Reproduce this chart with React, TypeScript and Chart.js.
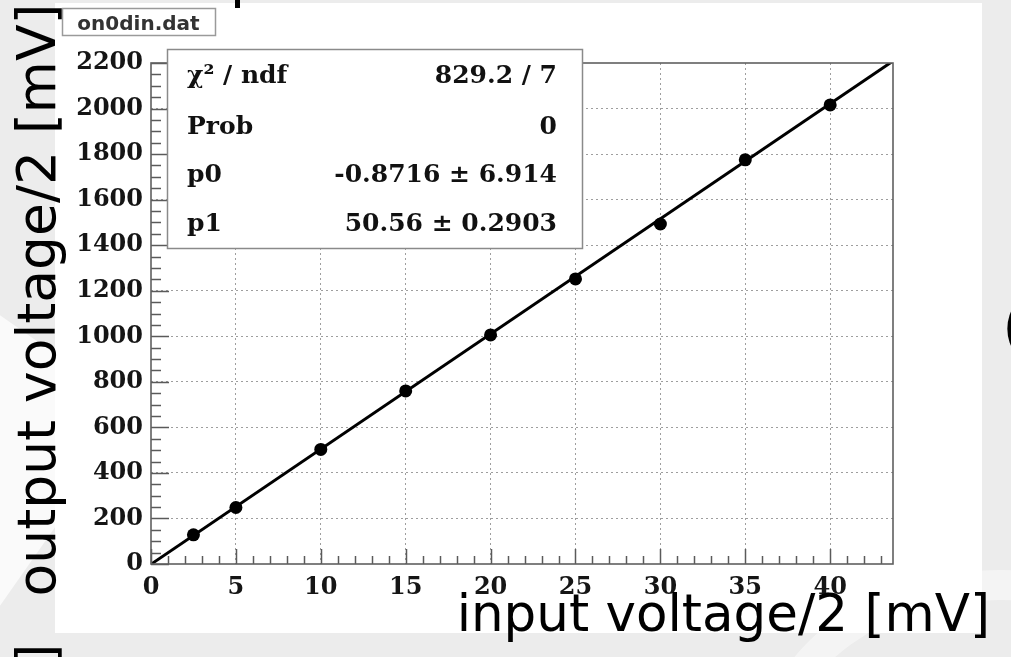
import { useEffect, useRef } from "react";
import { Chart, registerables } from "chart.js";

Chart.register(...registerables);

// Measured points: input voltage / 2 (mV) vs output voltage / 2 (mV)
const inputVoltage = [2.5, 5, 10, 15, 20, 25, 30, 35, 40];
const outputVoltage = [128, 248, 503, 760, 1006, 1252, 1493, 1775, 2016];

// Linear fit y = p0 + p1 * x
const fitP0 = -0.8716;
const fitP0Err = 6.914;
const fitP1 = 50.56;
const fitP1Err = 0.2903;
const chi2 = 829.2;
const ndf = 7;
const prob = 0;

const histTitle = "on0din.dat";
const statLabels = ["χ² / ndf", "Prob", "p0", "p1"];
const statValues = [
  `${chi2} / ${ndf}`,
  `${prob}`,
  `${fitP0} ± ${fitP0Err}`,
  `${fitP1} ± ${fitP1Err}`,
];

const xAxisTitle = "input voltage/2 [mV]";
const yAxisTitle = "output voltage/2 [mV]";

const X_MIN = 0;
const X_MAX = 43.7;
const Y_MIN = 0;
const Y_MAX = 2200;
const X_MAJOR = 5;
const X_MINOR = 1;
const Y_MAJOR = 200;
const Y_MINOR = 50;

const fitLine = (x: number) => fitP0 + fitP1 * x;

const isMultiple = (v: number, step: number) =>
  Math.abs(v / step - Math.round(v / step)) < 1e-6;

// ROOT-style frame: inside ticks, frame box, stats box and title box
const rootStylePlugin = {
  id: "rootStyle",
  afterDatasetsDraw(chart: any) {
    const { ctx, chartArea: a, scales } = chart;
    const xs = scales.x;
    const ys = scales.y;
    ctx.save();
    ctx.strokeStyle = "#5a5a5a";
    ctx.lineWidth = 1.5;
    ctx.setLineDash([]);
    // ticks on the x axis
    for (let v = X_MIN; v <= X_MAX + 1e-9; v += X_MINOR) {
      const px = Math.round(xs.getPixelForValue(v)) + 0.5;
      const len = isMultiple(v, X_MAJOR) ? 15 : 8;
      ctx.beginPath();
      ctx.moveTo(px, a.bottom);
      ctx.lineTo(px, a.bottom - len);
      ctx.stroke();
    }
    // ticks on the y axis
    for (let v = Y_MIN; v <= Y_MAX + 1e-9; v += Y_MINOR) {
      const py = Math.round(ys.getPixelForValue(v)) + 0.5;
      const len = isMultiple(v, Y_MAJOR) ? 18 : 10;
      ctx.beginPath();
      ctx.moveTo(a.left, py);
      ctx.lineTo(a.left + len, py);
      ctx.stroke();
    }
    // frame
    ctx.strokeStyle = "#606060";
    ctx.lineWidth = 1.6;
    ctx.strokeRect(a.left, a.top, a.right - a.left, a.bottom - a.top);
    ctx.restore();
  },
  afterDraw(chart: any) {
    const { ctx } = chart;
    ctx.save();
    // stats box
    const bx = 167, by = 49, bw = 415, bh = 199;
    ctx.fillStyle = "#ffffff";
    ctx.fillRect(bx, by, bw, bh);
    ctx.strokeStyle = "#8a8a8a";
    ctx.lineWidth = 1.5;
    ctx.strokeRect(bx + 0.5, by + 0.5, bw, bh);
    ctx.fillStyle = "#111111";
    ctx.font = "bold 25px 'DejaVu Serif'";
    ctx.textBaseline = "alphabetic";
    const baselines = [83, 134, 182, 231];
    statLabels.forEach((label, i) => {
      ctx.textAlign = "left";
      ctx.fillText(label, 187, baselines[i]);
      ctx.textAlign = "right";
      ctx.fillText(statValues[i], 557, baselines[i]);
    });
    // title box
    const tx = 62, ty = 8, tw = 153, th = 27;
    ctx.fillStyle = "#ffffff";
    ctx.fillRect(tx, ty, tw, th);
    ctx.strokeStyle = "#9a9a9a";
    ctx.lineWidth = 1.5;
    ctx.strokeRect(tx + 0.5, ty + 0.5, tw, th);
    ctx.fillStyle = "#333333";
    ctx.font = "bold 20px 'DejaVu Sans'";
    ctx.textAlign = "center";
    ctx.fillText(histTitle, tx + tw / 2, 30);
    ctx.restore();
  },
};

export default function App() {
  const canvasRef = useRef<HTMLCanvasElement>(null);

  useEffect(() => {
    const canvas = canvasRef.current;
    if (!canvas) return;
    const tickFont = { family: "'DejaVu Serif'", size: 24, weight: "bold" as const };
    const gridColor = (step: number, max: number) => (ctx: any) => {
      const v = ctx.tick ? ctx.tick.value : 0;
      if (v <= 0 || v >= max - 1e-6) return "rgba(0,0,0,0)";
      return isMultiple(v, step) ? "rgba(0,0,0,0.38)" : "rgba(0,0,0,0)";
    };
    const chart = new Chart(canvas, {
      type: "scatter",
      data: {
        datasets: [
          {
            label: "data",
            data: inputVoltage.map((x, i) => ({ x, y: outputVoltage[i] })),
            pointRadius: 6.5,
            pointHoverRadius: 6.5,
            pointBackgroundColor: "#000000",
            pointBorderWidth: 0,
            showLine: false,
          },
          {
            label: "fit",
            data: [
              { x: X_MIN, y: fitLine(X_MIN) },
              { x: X_MAX, y: fitLine(X_MAX) },
            ],
            showLine: true,
            borderColor: "#000000",
            borderWidth: 3,
            pointRadius: 0,
            pointHoverRadius: 0,
          },
        ],
      },
      options: {
        animation: false,
        responsive: false,
        devicePixelRatio: 1,
        events: [],
        layout: { padding: { left: 0, top: 63, right: 118, bottom: 53 } },
        plugins: {
          legend: { display: false },
          tooltip: { enabled: false },
        },
        scales: {
          x: {
            type: "linear",
            min: X_MIN,
            max: X_MAX,
            afterFit: (s: any) => {
              s.height = 40;
            },
            border: { display: false, dash: [2, 3] },
            grid: {
              drawTicks: false,
              lineWidth: 1,
              color: gridColor(X_MAJOR, X_MAX),
            },
            ticks: {
              stepSize: X_MINOR,
              autoSkip: false,
              maxRotation: 0,
              padding: 9,
              color: "#151515",
              font: tickFont,
              callback: (v: any) => (isMultiple(Number(v), X_MAJOR) ? String(v) : ""),
            },
          },
          y: {
            type: "linear",
            min: Y_MIN,
            max: Y_MAX,
            afterFit: (s: any) => {
              s.width = 151;
            },
            border: { display: false, dash: [2, 3] },
            grid: {
              drawTicks: false,
              lineWidth: 1,
              color: gridColor(Y_MAJOR, Y_MAX),
            },
            ticks: {
              stepSize: Y_MINOR,
              autoSkip: false,
              padding: 8,
              color: "#151515",
              font: tickFont,
              callback: (v: any) => (isMultiple(Number(v), Y_MAJOR) ? String(v) : ""),
            },
          },
        },
      },
      plugins: [rootStylePlugin],
    } as any);
    return () => chart.destroy();
  }, []);

  return (
    <div
      style={{
        position: "fixed",
        left: 0,
        top: 0,
        width: 1011,
        height: 657,
        overflow: "hidden",
        background: "#ececec",
        fontFamily: "'DejaVu Sans', sans-serif",
      }}
    >
      {/* soft white shapes of the slide background */}
      <div
        style={{
          position: "absolute",
          left: -120,
          top: 330,
          width: 200,
          height: 260,
          background: "rgba(255,255,255,0.75)",
          transform: "rotate(35deg)",
        }}
      />
      <div
        style={{
          position: "absolute",
          left: 760,
          top: 570,
          width: 420,
          height: 300,
          borderRadius: "50%",
          border: "30px solid rgba(255,255,255,0.45)",
        }}
      />
      {/* white plot canvas */}
      <div
        style={{
          position: "absolute",
          left: 55,
          top: 3,
          width: 927,
          height: 630,
          background: "#ffffff",
        }}
      />
      <canvas
        ref={canvasRef}
        width={1011}
        height={657}
        style={{ position: "absolute", left: 0, top: 0, width: 1011, height: 657 }}
      />
      {/* axis titles */}
      <div
        style={{
          position: "absolute",
          left: 37,
          top: 300,
          transform: "translate(-50%, -50%) rotate(-90deg)",
          fontSize: 53.5,
          lineHeight: 1,
          whiteSpace: "nowrap",
          color: "#000",
        }}
      >
        {yAxisTitle}
      </div>
      <div
        style={{
          position: "absolute",
          right: 21,
          top: 588,
          fontSize: 51.5,
          lineHeight: 1,
          whiteSpace: "nowrap",
          color: "#000",
        }}
      >
        {xAxisTitle}
      </div>
      {/* neighbouring slide text, partly off the edge */}
      <div
        style={{
          position: "absolute",
          left: 37,
          top: 654,
          transform: "translate(-50%, -50%) rotate(-90deg)",
          fontSize: 53.5,
          lineHeight: 1,
          color: "#000",
        }}
      >
        ]
      </div>
      <div
        style={{
          position: "absolute",
          left: 1002,
          top: 296,
          fontSize: 62,
          lineHeight: 1,
          color: "#000",
        }}
      >
        (
      </div>
      <div
        style={{
          position: "absolute",
          left: 235,
          top: 0,
          width: 5,
          height: 8,
          background: "#000",
        }}
      />
    </div>
  );
}
